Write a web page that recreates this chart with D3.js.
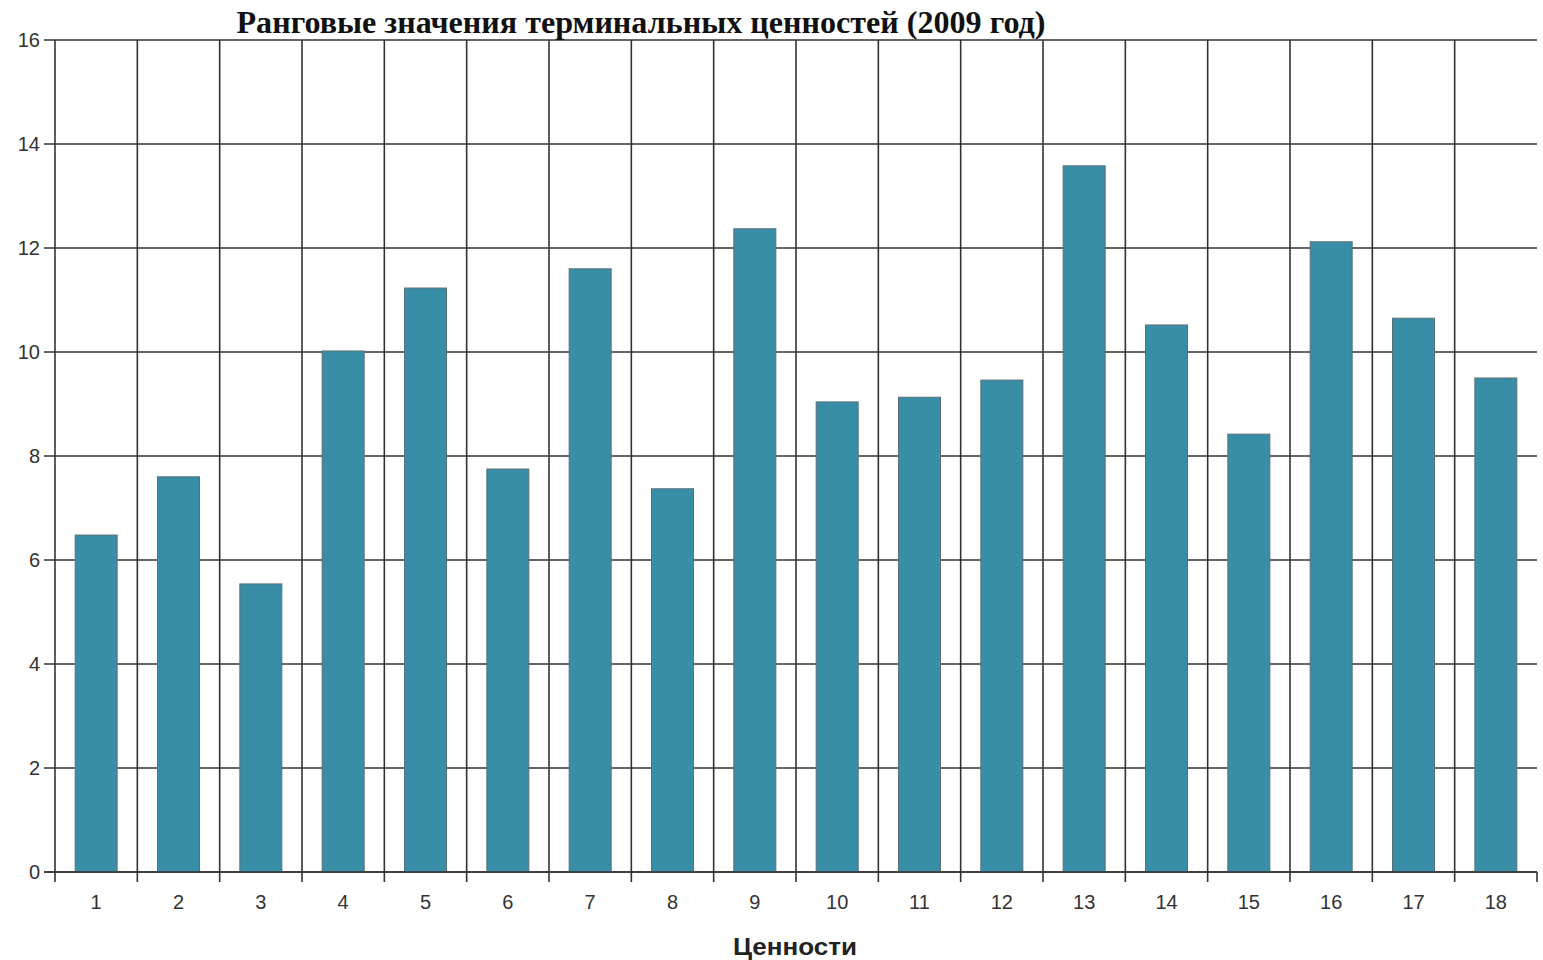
<!DOCTYPE html>
<html><head><meta charset="utf-8">
<script src="https://cdn.jsdelivr.net/npm/d3@7"></script>
<style>body{margin:0;background:#fff}svg{display:block}</style>
</head><body>
<svg id="c" width="1543" height="960"></svg>
<script>
const categories = ["1","2","3","4","5","6","7","8","9","10","11","12","13","14","15","16","17","18"];
const values = [6.48,7.6,5.54,10.02,11.23,7.75,11.6,7.37,12.37,9.04,9.13,9.46,13.58,10.52,8.42,12.12,10.65,9.5];
const yTicks = [0,2,4,6,8,10,12,14,16];
const title = "Ранговые значения терминальных ценностей (2009 год)";
const xTitle = "Ценности";

const svg = d3.select("#c");
const L = 55, R = 1537, T = 40, B = 872;
const x = d3.scaleBand().domain(categories).range([L, R]).paddingInner(0.49).paddingOuter(0.245);
const xb = d3.scaleBand().domain(categories).range([L, R]);
const y = d3.scaleLinear().domain([0, 16]).range([B, T]);
const gridC = "#333";

// horizontal gridlines
svg.append("g").selectAll("line").data(yTicks).join("line")
  .attr("x1", 44).attr("x2", R).attr("y1", d => y(d)).attr("y2", d => y(d))
  .attr("stroke", gridC).attr("stroke-width", 1.6);
// vertical gridlines at band boundaries
svg.append("g").selectAll("line").data(categories).join("line")
  .attr("x1", d => xb(d)).attr("x2", d => xb(d)).attr("y1", T).attr("y2", B + 10)
  .attr("stroke", gridC).attr("stroke-width", 1.6);
// right end tick
svg.append("line").attr("x1", R).attr("x2", R).attr("y1", B).attr("y2", B + 10)
  .attr("stroke", gridC).attr("stroke-width", 1.6);

// bars
svg.append("g").selectAll("rect").data(values).join("rect")
  .attr("x", (d, i) => x(categories[i])).attr("width", x.bandwidth())
  .attr("y", d => y(d)).attr("height", d => B - y(d))
  .attr("fill", "#398ea7").attr("stroke", "#5a6f78").attr("stroke-width", 1);

// axis line on top
svg.append("line").attr("x1", 44).attr("x2", R).attr("y1", B).attr("y2", B)
  .attr("stroke", gridC).attr("stroke-width", 1.6);

// y labels
svg.append("g").selectAll("text").data(yTicks).join("text")
  .attr("x", 40).attr("y", d => y(d)).attr("dy", "0.35em").attr("text-anchor", "end")
  .attr("font-family", "Arial, Liberation Sans, sans-serif").attr("font-size", 20).attr("fill", "#333")
  .text(d => d);
// x labels
svg.append("g").selectAll("text").data(categories).join("text")
  .attr("x", d => x(d) + x.bandwidth() / 2).attr("y", 902).attr("dy", "0.35em").attr("text-anchor", "middle")
  .attr("font-family", "Arial, Liberation Sans, sans-serif").attr("font-size", 20).attr("fill", "#333")
  .text(d => d);

svg.append("text").attr("x", 641).attr("y", 33).attr("text-anchor", "middle")
  .attr("font-family", "Liberation Serif, Times New Roman, serif").attr("font-weight", "bold")
  .attr("font-size", 31).attr("fill", "#111")
  .attr("textLength", 809).attr("lengthAdjust", "spacingAndGlyphs").text(title);
svg.append("text").attr("x", 795).attr("y", 955).attr("text-anchor", "middle")
  .attr("font-family", "Arial, Liberation Sans, sans-serif").attr("font-weight", "bold")
  .attr("font-size", 24).attr("fill", "#222")
  .attr("textLength", 124).attr("lengthAdjust", "spacingAndGlyphs").text(xTitle);
</script>
</body></html>
